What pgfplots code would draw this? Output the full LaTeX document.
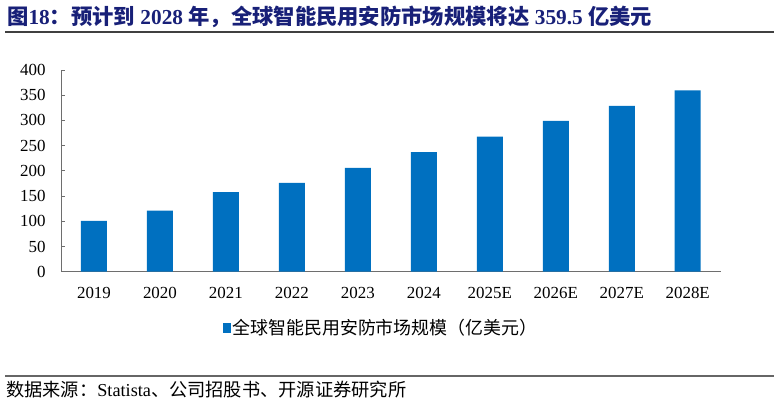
\documentclass[border=0pt]{standalone}
\usepackage{pgfplots}
\pgfplotsset{compat=1.18}
\usepackage{fontspec}
\setmainfont{Liberation Serif}
\newfontfamily\cjk{Noto Sans CJK SC}
\definecolor{barblue}{RGB}{0,112,192}
\definecolor{titleblue}{RGB}{24,32,120}
\definecolor{axisgray}{RGB}{110,110,110}
\begin{document}
\begin{tikzpicture}[x=1bp,y=1bp]
\useasboundingbox (0,0) rectangle (774,405);
% title and rules
\node[anchor=west,text=titleblue,font=\fontsize{21.4}{24}\selectfont\bfseries,inner sep=0pt] at (7,388)
  {{\cjk 图}18{\cjk ：预计到} 2028 {\cjk 年，全球智能民用安防市场规模将达} 359.5 {\cjk 亿美元}};
\draw[line width=1.4bp,black!75] (5,373) -- (774,373);
\draw[line width=1.2bp,black!60] (5,29) -- (774,29);
\node[anchor=west,font=\fontsize{18.3}{20}\selectfont,inner sep=0pt] at (6,15)
  {{\cjk 数据来源：}Statista{\cjk 、公司招股书、开源证券研究所}};
\begin{axis}[
    at={(61bp,133.3bp)}, anchor=south west,
    scale only axis, width=659.7bp, height=201.7bp,
    xmin=-0.5, xmax=9.5, ymin=0, ymax=400,
    axis x line*=bottom, axis y line*=left,
    axis line style={axisgray,line width=0.9bp},
    xtick=data,
    xticklabels={2019,2020,2021,2022,2023,2024,2025E,2026E,2027E,2028E},
    major x tick style={draw=none},
    extra x ticks={-0.5,0.5,...,9.5},
    extra x tick labels={},
    extra x tick style={tick style={axisgray,line width=0.9bp}, major tick length=5bp, tick align=outside},
    ytick={0,50,...,400},
    y tick style={axisgray,line width=0.9bp},
    major tick length=4bp, tick align=inside,
    ticklabel style={font=\fontsize{17}{19}\selectfont},
    /pgf/number format/assume math mode=true,
    yticklabel style={xshift=-12bp},
    xticklabel style={yshift=-8bp},
    ybar, bar width=26bp,
    legend style={at={(0.485,-0.279)}, anchor=center, draw=none, fill=none,
      font=\fontsize{18}{20}\selectfont\cjk},
    legend image code/.code={\fill[barblue] (0bp,-5bp) rectangle (8bp,5bp);},
    clip=false,
]
\addplot[fill=barblue, draw=none] coordinates {
  (0,101) (1,121) (2,158) (3,176) (4,206) (5,237) (6,268) (7,299) (8,329) (9,359.5)
};
\legend{全球智能民用安防市场规模（亿美元）}
\end{axis}
\end{tikzpicture}
\end{document}
